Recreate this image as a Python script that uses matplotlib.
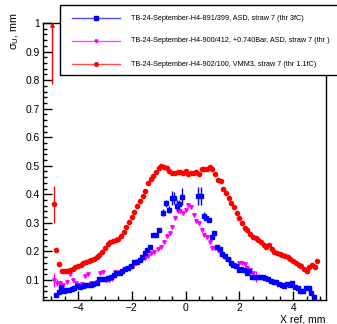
import matplotlib
matplotlib.use("Agg")
import matplotlib.pyplot as plt
from matplotlib.ticker import MultipleLocator, FixedLocator
from matplotlib.patches import Rectangle
from matplotlib.lines import Line2D

plt.rcParams['font.family'] = ['Liberation Sans', 'DejaVu Sans']
plt.rcParams['mathtext.fontset'] = 'custom'
plt.rcParams['mathtext.rm'] = 'Liberation Sans'
plt.rcParams['mathtext.it'] = 'Liberation Sans'

# ---------------- data ----------------
labels = ["TB-24-September-H4-891/399, ASD, straw 7 (thr 3fC)",
          "TB-24-September-H4-900/412, +0.740Bar, ASD, straw 7 (thr )",
          "TB-24-September-H4-902/100, VMM3, straw 7 (thr 1.1fC)"]

blue_x = [-4.81, -4.71, -4.62, -4.53, -4.44, -4.34, -4.24, -4.13, -4.03, -3.93,
          -3.83, -3.73, -3.63, -3.53, -3.43, -3.31, -3.20, -3.10, -3.00, -2.87,
          -2.76, -2.67, -2.57, -2.45, -2.35, -2.24, -2.13, -2.02, -1.92, -1.82,
          -1.71, -1.61, -1.52, -1.42, -1.32, -1.20, -1.10, -0.97, -0.84, -0.73,
          -0.63, -0.52, -0.42, -0.32, -0.23, -0.13, 0.48, 0.57, 0.67, 0.77,
          0.87, 0.97, 1.07, 1.17, 1.27, 1.37, 1.47, 1.57, 1.67, 1.77,
          1.87, 1.97, 2.07, 2.17, 2.27, 2.37, 2.47, 2.57, 2.67, 2.77,
          2.87, 2.97, 3.07, 3.17, 3.27, 3.37, 3.47, 3.57, 3.67, 3.77,
          3.87, 3.97, 4.07, 4.17, 4.27, 4.37, 4.47, 4.57, 4.67, 4.77]
blue_y = [0.047, 0.059, 0.074, 0.063, 0.065, 0.066, 0.068, 0.071, 0.079, 0.077,
          0.080, 0.082, 0.083, 0.083, 0.086, 0.091, 0.103, 0.103, 0.102, 0.106,
          0.112, 0.116, 0.123, 0.126, 0.133, 0.137, 0.141, 0.149, 0.162, 0.164,
          0.170, 0.182, 0.194, 0.205, 0.217, 0.258, 0.258, 0.275, 0.336, 0.369,
          0.346, 0.387, 0.387, 0.360, 0.365, 0.392, 0.395, 0.395, 0.325, 0.316,
          0.310, 0.252, 0.264, 0.217, 0.210, 0.192, 0.183, 0.172, 0.160, 0.153,
          0.149, 0.134, 0.139, 0.136, 0.124, 0.133, 0.112, 0.112, 0.112, 0.110,
          0.109, 0.106, 0.102, 0.097, 0.094, 0.092, 0.087, 0.081, 0.079, 0.085,
          0.082, 0.088, 0.074, 0.071, 0.062, 0.062, 0.071, 0.071, 0.053, 0.041]
blue_err = [0.005] * 38 + [0.012, 0.012, 0.012, 0.025, 0.022, 0.02, 0.015, 0.03,
            0.032, 0.032, 0.012] + [0.005] * 41

mag_x = [-4.90, -4.78, -4.66, -4.54, -4.41, -4.29, -4.18, -4.06, -3.95, -3.84,
         -3.73, -3.63, -3.51, -3.40, -3.29, -3.19, -3.07, -2.96, -2.85, -2.74,
         -2.63, -2.53, -2.42, -2.30, -2.19, -2.07, -1.97, -1.86, -1.75, -1.63,
         -1.51, -1.40, -1.28, -1.16, -1.04, -0.93, -0.81, -0.69, -0.58, -0.49,
         -0.39, -0.30, -0.20, -0.10, 0.00, 0.10, 0.20, 0.30, 0.40, 0.50,
         0.60, 0.70, 0.80, 0.90, 1.00, 1.10, 1.20, 1.30, 1.40, 1.50,
         1.60, 1.70, 1.80, 1.90, 2.00, 2.10, 2.20, 2.30, 2.40, 2.50, 2.60]
mag_y = [0.100, 0.091, 0.090, 0.082, 0.094, 0.120, 0.100, 0.091, 0.082, 0.085,
         0.115, 0.120, 0.091, 0.090, 0.094, 0.123, 0.129, 0.100, 0.100, 0.102,
         0.127, 0.125, 0.129, 0.135, 0.141, 0.147, 0.150, 0.158, 0.167, 0.172,
         0.176, 0.184, 0.194, 0.199, 0.209, 0.217, 0.233, 0.253, 0.266, 0.285,
         0.316, 0.340, 0.340, 0.336, 0.345, 0.362, 0.357, 0.328, 0.305, 0.298,
         0.276, 0.258, 0.252, 0.234, 0.212, 0.211, 0.205, 0.190, 0.184, 0.174,
         0.170, 0.158, 0.153, 0.147, 0.158, 0.158, 0.157, 0.141, 0.134, 0.123, 0.112]
mag_err = [0.025, 0.012] + [0.007] * 68 + [0.02]

red_x = [-4.90, -4.80, -4.70, -4.60, -4.50, -4.40, -4.30, -4.20, -4.10, -4.00,
         -3.90, -3.80, -3.70, -3.60, -3.50, -3.40, -3.30, -3.20, -3.10, -3.00,
         -2.90, -2.80, -2.70, -2.60, -2.50, -2.40, -2.30, -2.20, -2.10, -2.00,
         -1.90, -1.80, -1.70, -1.60, -1.50, -1.40, -1.30, -1.20, -1.10, -1.00,
         -0.90, -0.80, -0.70, -0.60, -0.50, -0.40, -0.30, -0.20, -0.10, 0.00,
         0.10, 0.20, 0.30, 0.40, 0.50, 0.60, 0.70, 0.80, 0.90, 1.00,
         1.10, 1.20, 1.30, 1.40, 1.50, 1.60, 1.70, 1.80, 1.90, 2.00,
         2.10, 2.20, 2.30, 2.40, 2.50, 2.60, 2.70, 2.80, 2.90, 3.00,
         3.10, 3.20, 3.30, 3.40, 3.50, 3.60, 3.70, 3.80, 3.90, 4.00,
         4.10, 4.20, 4.30, 4.40, 4.50, 4.60, 4.70, 4.80, 4.90]
red_y = [0.365, 0.205, 0.155, 0.131, 0.130, 0.132, 0.135, 0.140, 0.146, 0.150,
         0.154, 0.158, 0.162, 0.166, 0.170, 0.175, 0.180, 0.186, 0.197, 0.212,
         0.226, 0.232, 0.236, 0.239, 0.243, 0.254, 0.269, 0.286, 0.302, 0.320,
         0.337, 0.358, 0.377, 0.394, 0.410, 0.438, 0.452, 0.464, 0.478, 0.492,
         0.498, 0.497, 0.492, 0.480, 0.473, 0.476, 0.477, 0.478, 0.476, 0.480,
         0.470, 0.474, 0.476, 0.478, 0.472, 0.490, 0.490, 0.490, 0.494, 0.488,
         0.470, 0.450, 0.447, 0.420, 0.405, 0.388, 0.370, 0.355, 0.334, 0.316,
         0.298, 0.283, 0.275, 0.261, 0.252, 0.247, 0.240, 0.234, 0.222, 0.214,
         0.222, 0.207, 0.197, 0.193, 0.190, 0.187, 0.183, 0.179, 0.174, 0.168,
         0.160, 0.154, 0.148, 0.139, 0.133, 0.147, 0.152, 0.147, 0.168]
red_err = [0.065] + [0.004] * 98

# out-of-range red point (only its lower error bar is visible)
red_over_x = -4.98
red_over_y = 1.12
red_over_err = 0.333

# ---------------- figure ----------------
W, H = 337, 324
fig = plt.figure(figsize=(W / 100, H / 100), dpi=100)
ax = fig.add_axes([43 / W, 1 - 300 / H, (326 - 43) / W, (300 - 23) / H])

BLUE = '#0000ff'
MAG = '#ff00ff'
RED = '#ff0000'

ax.errorbar(mag_x, mag_y, yerr=mag_err, fmt='v', color=MAG, ms=2.5,
            elinewidth=0.9, capsize=0, zorder=3)
ax.errorbar(blue_x, blue_y, yerr=blue_err, fmt='s', color=BLUE, ms=3.3,
            elinewidth=1.0, capsize=0, zorder=4)
ax.errorbar(red_x, red_y, yerr=red_err, fmt='o', color=RED, ms=3.0,
            elinewidth=0.9, capsize=0, zorder=5)
ax.errorbar([red_over_x], [red_over_y], yerr=[[red_over_err], [0]], fmt='none',
            ecolor=RED, elinewidth=1.0, capsize=0, zorder=5)

ax.set_xlim(-5.3, 5.22)
ax.set_ylim(0.03, 1.0)
ax.plot([red_over_x], [ax.get_ylim()[1] - 0.008], marker='^', color=RED, ms=2.5,
        ls='none', clip_on=False, zorder=6)

ax.xaxis.set_major_locator(FixedLocator([-4, -2, 0, 2, 4]))
ax.xaxis.set_minor_locator(MultipleLocator(0.5))
ax.yaxis.set_major_locator(FixedLocator([0.1, 0.2, 0.3, 0.4, 0.5, 0.6, 0.7, 0.8, 0.9, 1.0]))
ax.yaxis.set_minor_locator(MultipleLocator(0.02))
ax.set_xticklabels(['\u22124', '\u22122', '0', '2', '4'])
ax.set_yticklabels(['0.1', '0.2', '0.3', '0.4', '0.5', '0.6', '0.7', '0.8', '0.9', '1'])

ax.tick_params(which='both', direction='in', top=False, right=False,
               labelsize=7.4, colors='black', width=1.0)
ax.tick_params(which='major', length=6.2, pad=2.5)
ax.tick_params(which='minor', length=3.2)
for s in ax.spines.values():
    s.set_linewidth(1.0)
    s.set_color('black')

fig.text(326 / W, 1 - 319 / H, 'X ref, mm', ha='right', va='center', fontsize=7.6)
fig.text(15 / W, 1 - 12 / H, r'$\sigma_U$, mm', ha='center', va='top',
         rotation=90, fontsize=7.8)

# ---------------- legend box ----------------
fig.patches.append(Rectangle((60 / W, 1 - 75 / H), 300 / W, 70 / H,
                             transform=fig.transFigure, facecolor='white',
                             edgecolor='black', linewidth=1.0, zorder=10))
leg_y = [18, 41, 64]
styles = [(BLUE, 's', 3.0), (MAG, 'v', 2.2), (RED, 'o', 2.6)]
for lab, yy, (c, m, ms) in zip(labels, leg_y, styles):
    yf = 1 - yy / H
    fig.lines.append(Line2D([72 / W, 120 / W], [yf, yf], transform=fig.transFigure,
                            color=c, lw=1.0, alpha=0.7, zorder=11))
    fig.lines.append(Line2D([96 / W], [yf], transform=fig.transFigure, color=c,
                            marker=m, ms=ms, ls='none', zorder=12))
    fig.text(131 / W, yf, lab, ha='left', va='center', fontsize=5.2, zorder=12)

fig.savefig('out.png', dpi=100)
